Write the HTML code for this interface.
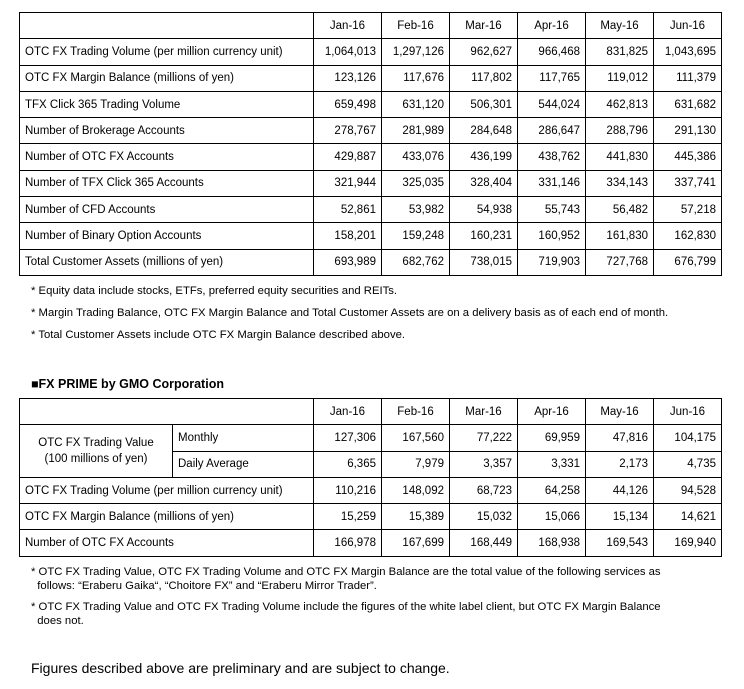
<!DOCTYPE html>
<html><head><style>
body{margin:0;width:744px;height:689px;background:#fff;font-family:"Liberation Sans",Arial,sans-serif;color:#000;position:relative;overflow:hidden}
table{position:absolute;border-collapse:collapse;font-size:11.5px;table-layout:fixed}
td{border:1px solid #000;padding:0 5px;height:25.3px;white-space:nowrap;overflow:hidden}
td.n{text-align:right}
td.h{text-align:center}
.note{position:absolute;font-size:11.3px;left:31px;line-height:14px}
</style></head><body>
<table style="left:19px;top:12px;width:703px">
<colgroup><col style="width:294px"><col style="width:68px"><col style="width:68px"><col style="width:68px"><col style="width:68px"><col style="width:68px"><col style="width:68px"></colgroup>
<tr><td></td><td class="h">Jan-16</td><td class="h">Feb-16</td><td class="h">Mar-16</td><td class="h">Apr-16</td><td class="h">May-16</td><td class="h">Jun-16</td></tr>
<tr><td>OTC FX Trading Volume (per million currency unit)</td><td class="n">1,064,013</td><td class="n">1,297,126</td><td class="n">962,627</td><td class="n">966,468</td><td class="n">831,825</td><td class="n">1,043,695</td></tr>
<tr><td>OTC FX Margin Balance (millions of yen)</td><td class="n">123,126</td><td class="n">117,676</td><td class="n">117,802</td><td class="n">117,765</td><td class="n">119,012</td><td class="n">111,379</td></tr>
<tr><td>TFX Click 365 Trading Volume</td><td class="n">659,498</td><td class="n">631,120</td><td class="n">506,301</td><td class="n">544,024</td><td class="n">462,813</td><td class="n">631,682</td></tr>
<tr><td>Number of Brokerage Accounts</td><td class="n">278,767</td><td class="n">281,989</td><td class="n">284,648</td><td class="n">286,647</td><td class="n">288,796</td><td class="n">291,130</td></tr>
<tr><td>Number of OTC FX Accounts</td><td class="n">429,887</td><td class="n">433,076</td><td class="n">436,199</td><td class="n">438,762</td><td class="n">441,830</td><td class="n">445,386</td></tr>
<tr><td>Number of TFX Click 365 Accounts</td><td class="n">321,944</td><td class="n">325,035</td><td class="n">328,404</td><td class="n">331,146</td><td class="n">334,143</td><td class="n">337,741</td></tr>
<tr><td>Number of CFD Accounts</td><td class="n">52,861</td><td class="n">53,982</td><td class="n">54,938</td><td class="n">55,743</td><td class="n">56,482</td><td class="n">57,218</td></tr>
<tr><td>Number of Binary Option Accounts</td><td class="n">158,201</td><td class="n">159,248</td><td class="n">160,231</td><td class="n">160,952</td><td class="n">161,830</td><td class="n">162,830</td></tr>
<tr><td>Total Customer Assets (millions of yen)</td><td class="n">693,989</td><td class="n">682,762</td><td class="n">738,015</td><td class="n">719,903</td><td class="n">727,768</td><td class="n">676,799</td></tr>
</table>
<div class="note" style="top:284px">* Equity data include stocks, ETFs, preferred equity securities and REITs.</div>
<div class="note" style="top:306px">* Margin Trading Balance, OTC FX Margin Balance and Total Customer Assets are on a delivery basis as of each end of month.</div>
<div class="note" style="top:328px">* Total Customer Assets include OTC FX Margin Balance described above.</div>
<div style="position:absolute;left:31px;top:377px;font-size:12.5px;font-weight:bold">■FX PRIME by GMO Corporation</div>
<table style="left:19px;top:398px;width:703px">
<colgroup><col style="width:153px"><col style="width:141px"><col style="width:68px"><col style="width:68px"><col style="width:68px"><col style="width:68px"><col style="width:68px"><col style="width:68px"></colgroup>
<tr><td colspan="2"></td><td class="h">Jan-16</td><td class="h">Feb-16</td><td class="h">Mar-16</td><td class="h">Apr-16</td><td class="h">May-16</td><td class="h">Jun-16</td></tr>
<tr><td rowspan="2" class="h" style="line-height:16px">OTC FX Trading Value<br>(100 millions of yen)</td><td>Monthly</td><td class="n">127,306</td><td class="n">167,560</td><td class="n">77,222</td><td class="n">69,959</td><td class="n">47,816</td><td class="n">104,175</td></tr>
<tr><td>Daily Average</td><td class="n">6,365</td><td class="n">7,979</td><td class="n">3,357</td><td class="n">3,331</td><td class="n">2,173</td><td class="n">4,735</td></tr>
<tr><td colspan="2">OTC FX Trading Volume (per million currency unit)</td><td class="n">110,216</td><td class="n">148,092</td><td class="n">68,723</td><td class="n">64,258</td><td class="n">44,126</td><td class="n">94,528</td></tr>
<tr><td colspan="2">OTC FX Margin Balance (millions of yen)</td><td class="n">15,259</td><td class="n">15,389</td><td class="n">15,032</td><td class="n">15,066</td><td class="n">15,134</td><td class="n">14,621</td></tr>
<tr><td colspan="2">Number of OTC FX Accounts</td><td class="n">166,978</td><td class="n">167,699</td><td class="n">168,449</td><td class="n">168,938</td><td class="n">169,543</td><td class="n">169,940</td></tr>
</table>
<div class="note" style="top:565px;width:690px">* OTC FX Trading Value, OTC FX Trading Volume and OTC FX Margin Balance are the total value of the following services as<br>&nbsp;&nbsp;follows: “Eraberu Gaika“, “Choitore FX” and “Eraberu Mirror Trader”.</div>
<div class="note" style="top:600px;width:690px">* OTC FX Trading Value and OTC FX Trading Volume include the figures of the white label client, but OTC FX Margin Balance<br>&nbsp;&nbsp;does not.</div>
<div style="position:absolute;left:31px;top:660px;font-size:14px">Figures described above are preliminary and are subject to change.</div>
</body></html>
